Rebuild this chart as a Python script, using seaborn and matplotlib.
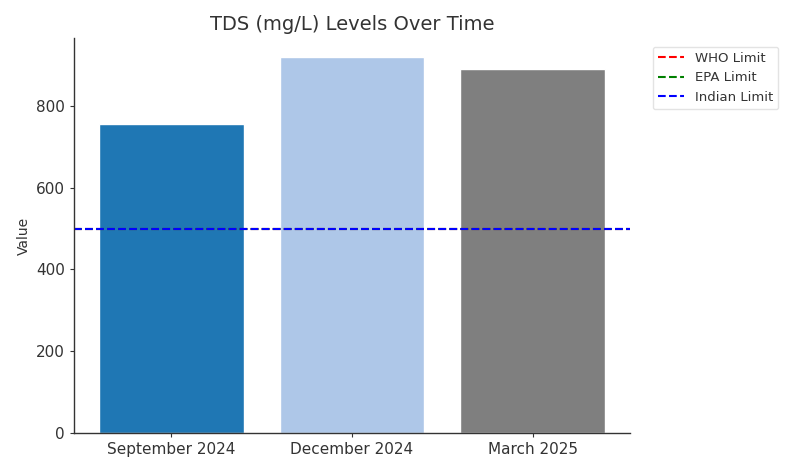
import matplotlib
matplotlib.use("Agg")
import matplotlib.pyplot as plt
import seaborn as sns
import pandas as pd

categories = ["September 2024", "December 2024", "March 2025"]
values = [755, 920, 890]
bar_colors = ["#1f77b4", "#aec7e8", "#7f7f7f"]
limit_names = ["WHO Limit", "EPA Limit", "Indian Limit"]
limit_values = [500, 500, 500]
limit_colors = ["red", "green", "blue"]

sns.set_style("ticks")
plt.rcParams['font.family'] = ['DejaVu Sans']

df = pd.DataFrame({"Date": categories, "Value": values})

fig = plt.figure(figsize=(7.88, 4.57), dpi=100)
ax = fig.add_axes([74/788, 24/457, (630-74)/788, (433-38)/457])
sns.barplot(data=df, x="Date", y="Value", hue="Date", palette=dict(zip(categories, bar_colors)),
            legend=False, ax=ax, width=0.8, saturation=1)

for name, v, c in zip(limit_names, limit_values, limit_colors):
    ax.axhline(v, color=c, linestyle="--", linewidth=1.5, label=name)

ax.set_xlim(-0.54, 2.54)
ax.set_ylim(0, 966)
ax.set_title("TDS (mg/L) Levels Over Time", fontsize=14, color="#333333")
ax.set_xlabel("")
ax.set_ylabel("Value", fontsize=10, color="#333333")
ax.tick_params(axis="both", labelsize=11, colors="#333333", length=3)
ax.set_yticks([0, 200, 400, 600, 800])
for s in ["top", "right"]:
    ax.spines[s].set_visible(False)
for s in ["left", "bottom"]:
    ax.spines[s].set_color("#333333")
    ax.spines[s].set_linewidth(1.0)

leg = ax.legend(loc="upper left", bbox_to_anchor=(1.029, 0.995), fontsize=9.5, frameon=True)
leg.get_frame().set_edgecolor("#dddddd")
for t in leg.get_texts():
    t.set_color("#333333")

fig.savefig("out.png", dpi=100)
